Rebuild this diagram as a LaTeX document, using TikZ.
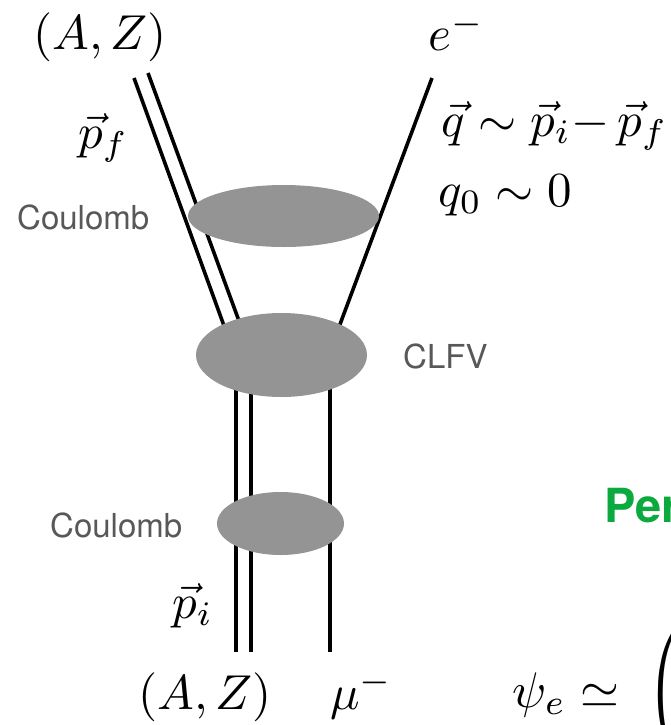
\documentclass[tikz,border=0pt]{standalone}
\usepackage{amsmath}
\usepackage{graphicx}
\usepackage{fontspec}
\setsansfont{TeX Gyre Heros}
\usetikzlibrary{shapes.geometric}
\definecolor{blobgray}{RGB}{148,148,148}
\definecolor{labelgray}{RGB}{88,88,88}
\definecolor{pergreen}{RGB}{12,170,62}
\newcommand{\Msc}[1]{\scalebox{4.9}{#1}}
\tikzset{
  fermion/.style={line width=3.6pt},
  blob/.style={ellipse, fill=blobgray, draw=none, inner sep=0pt},
  mlabel/.style={anchor=base west, inner sep=0pt},
  slabel/.style={anchor=base west, inner sep=0pt, text=labelgray, font=\sffamily\fontsize{33}{40}\selectfont},
}
\begin{document}
\begin{tikzpicture}[x=1pt,y=-1pt]
\useasboundingbox (0,0) rectangle (671,725);
\clip (0,0) rectangle (671,725);

% line end points
\coordinate (nfOutTop) at (134,78);
\coordinate (nfOutEnd) at (231,345);
\coordinate (nfInTop) at (148,73);
\coordinate (nfInEnd) at (246,340);
\coordinate (eTop) at (432,78);
\coordinate (eEnd) at (336,335);
\coordinate (niOutTop) at (236,380);
\coordinate (niOutBot) at (236,652);
\coordinate (niInTop) at (251,380);
\coordinate (niInBot) at (251,652);
\coordinate (muTop) at (330,380);
\coordinate (muBot) at (330,652);

% lines
\draw[fermion] (nfOutTop) -- (nfOutEnd);
\draw[fermion] (nfInTop) -- (nfInEnd);
\draw[fermion] (eTop) -- (eEnd);
\draw[fermion] (niOutTop) -- (niOutBot);
\draw[fermion] (niInTop) -- (niInBot);
\draw[fermion] (muTop) -- (muBot);

% blobs
\node[blob, minimum width=191pt, minimum height=62pt] (coulTop) at (283.5,216) {};
\node[blob, minimum width=171pt, minimum height=84pt] (clfvBlob) at (281.5,355) {};
\node[blob, minimum width=127pt, minimum height=63pt] (coulBot) at (280.5,523.5) {};

% math labels
\node[mlabel] (AZtop) at (33,49) {\Msc{$(A,Z)$}};
\node[mlabel] (eminus) at (428,51) {\Msc{$e^-$}};
\node[mlabel] (pf) at (78,148) {\Msc{$\vec p_f$}};
\node[mlabel] (qrel) at (441,136) {\Msc{$\vec q\sim\vec p_i{-}\,\vec p_f$}};
\node[mlabel] (qzero) at (438,206) {\Msc{$q_0\sim 0$}};
\node[mlabel] (pi) at (172,618) {\Msc{$\vec p_i$}};
\node[mlabel] (AZbot) at (138,709) {\Msc{$(A,Z)$}};
\node[mlabel] (mu) at (330,709) {\Msc{$\mu^-$}};

% text labels
\node[slabel] (coulTopLbl) at (17,229) {Coulomb};
\node[slabel] (clfvLbl) at (403,368) {CLFV};
\node[slabel] (coulBotLbl) at (50,537) {Coulomb};

% cut-off parts on the right
\node[anchor=base west, inner sep=0pt, text=pergreen, font=\sffamily\bfseries\fontsize{47}{56}\selectfont] (per) at (604,522) {Per};
\node[mlabel] (psi) at (512,707)
  {\scalebox{5}{$\psi_e\simeq\;\left(\vcenter{\hbox{\rule{0pt}{28pt}}}\right.$}};
\end{tikzpicture}
\end{document}
